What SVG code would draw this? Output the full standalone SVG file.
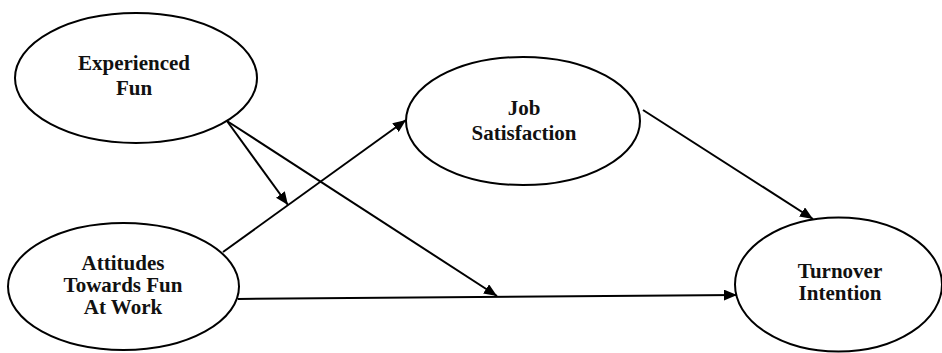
<svg xmlns="http://www.w3.org/2000/svg" width="942" height="353" viewBox="0 0 942 353">
<style>
.node ellipse{fill:#fff;stroke:#000;stroke-width:2}
.node text{font-family:"Liberation Serif","Times New Roman",serif;font-weight:bold;font-size:21px;text-anchor:middle;fill:#111}
.edges path{fill:none;stroke:#000;stroke-width:2;marker-end:url(#arr)}
</style>
<defs>
<marker id="arr" markerUnits="userSpaceOnUse" markerWidth="13" markerHeight="11" refX="13" refY="5.5" orient="auto">
<path d="M0,0 L13,5.5 L0,11 z" fill="#000"/>
</marker>
</defs>
<rect width="942" height="353" fill="#fff"/>
<g id="experienced-fun" class="node">
<ellipse cx="136" cy="78" rx="121" ry="65"/>
<text x="134" y="70">Experienced</text>
<text x="134" y="95">Fun</text>
</g>
<g id="attitudes" class="node">
<ellipse cx="123.5" cy="286.5" rx="115.5" ry="63.5"/>
<text x="123" y="270">Attitudes</text>
<text x="123" y="292">Towards Fun</text>
<text x="123" y="314">At Work</text>
</g>
<g id="job-satisfaction" class="node">
<ellipse cx="523" cy="121" rx="117" ry="64"/>
<text x="524" y="115">Job</text>
<text x="524" y="140">Satisfaction</text>
</g>
<g id="turnover-intention" class="node">
<ellipse cx="838.5" cy="284.5" rx="103.5" ry="67"/>
<text x="840" y="278">Turnover</text>
<text x="840" y="300">Intention</text>
</g>
<g id="connectors" class="edges">
<path d="M227,121 L288,205"/>
<path d="M227,121 L497,296"/>
<path d="M223,252 L406,120"/>
<path d="M643,110 L813,219"/>
<path d="M238,299 L737,295"/>
</g>
</svg>
